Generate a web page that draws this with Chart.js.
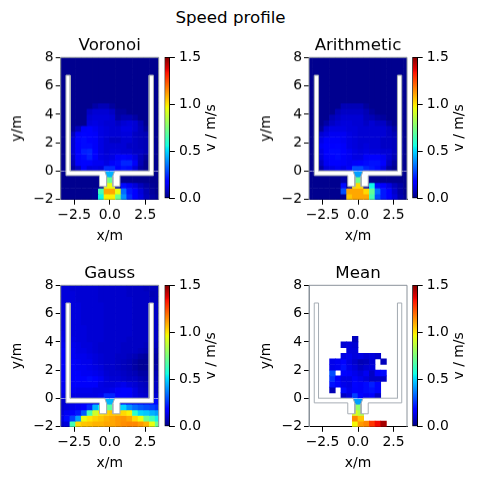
<!DOCTYPE html>
<html>
<head>
<meta charset="utf-8">
<title>Speed profile</title>
<script src="https://cdn.jsdelivr.net/npm/chart.js@4/dist/chart.umd.min.js"></script>
<style>
  html, body { margin: 0; padding: 0; background: #fff; }
  #stage { position: relative; width: 478px; height: 480px; overflow: hidden; }
  #stage canvas { position: absolute; }
  #suptitle { position: absolute; left: 0; top: 8px; width: 461px; text-align: center;
    font: 16.67px "DejaVu Sans"; color: #000; }
</style>
</head>
<body>
<div id="stage"><div id="suptitle">Speed profile</div></div>
<script>
// cell centres in metres
const columns = [-3.4, -3, -2.6, -2.2, -1.8, -1.4, -1, -0.6, -0.2, 0.2, 0.6, 1, 1.4, 1.8, 2.2, 2.6, 3, 3.4]
const rows = [7.8, 7.4, 7, 6.6, 6.2, 5.8, 5.4, 5, 4.6, 4.2, 3.8, 3.4, 3, 2.6, 2.2, 1.8, 1.4, 1, 0.6, 0.2, -0.2, -0.6, -1, -1.4, -1.8]

const xTicks = [-2.5, 0, 2.5]
const yTicks = [-2, 0, 2, 4, 6, 8]
const barTicks = [0, 0.5, 1, 1.5]

// walls, left half, the right half is the mirror
const wallX = [-3.08, -2.78, -2.78, -0.35, -0.22, -0.22, -0.72, -0.72, -3.08, -3.08]
const wallY = [6.75, 6.75, 0.02, 0.02, -0.35, -1.08, -1.08, -0.31, -0.31, 6.75]

const voronoi = [
  [.02,.02,.02,.02,.02,.02,.02,.02,.02,.02,.02,.02,.02,.02,.02,.02,.02,.02],
  [.02,.02,.02,.02,.02,.02,.02,.02,.02,.02,.02,.02,.02,.02,.02,.02,.02,.02],
  [.02,.02,.02,.02,.02,.02,.02,.02,.02,.02,.02,.02,.02,.02,.02,.02,.02,.02],
  [.02,.02,.02,.02,.02,.02,.02,.02,.02,.02,.02,.02,.02,.02,.02,.02,.02,.02],
  [.02,.02,.02,.02,.02,.02,.02,.02,.02,.02,.02,.02,.02,.02,.02,.02,.02,.02],
  [.02,.02,.02,.02,.02,.02,.02,.02,.02,.02,.02,.02,.02,.02,.02,.02,.02,.02],
  [.02,.02,.02,.02,.02,.02,.02,.02,.02,.02,.02,.02,.02,.02,.02,.02,.02,.02],
  [.02,.02,.02,.02,.02,.02,.02,.02,.02,.02,.02,.02,.02,.02,.02,.02,.02,.02],
  [.02,.02,.02,.02,.02,.02,.05,.07,.07,.04,.02,.02,.02,.02,.02,.02,.02,.02],
  [.02,.02,.02,.02,.02,.09,.11,.11,.11,.09,.04,.04,.02,.02,.02,.02,.02,.02],
  [.02,.02,.02,.02,.02,.11,.12,.12,.12,.11,.05,.07,.07,.05,.02,.02,.02,.02],
  [.02,.02,.02,.02,.02,.12,.13,.12,.11,.11,.09,.11,.12,.11,.07,.02,.02,.02],
  [.02,.02,.03,.08,.16,.17,.15,.13,.12,.11,.11,.13,.13,.11,.08,.04,.02,.02],
  [.02,.02,.08,.16,.19,.17,.16,.13,.12,.11,.11,.12,.12,.09,.08,.07,.02,.02],
  [.02,.02,.11,.19,.2,.17,.16,.13,.11,.09,.09,.11,.11,.09,.08,.07,.02,.02],
  [.02,.02,.11,.17,.2,.2,.16,.13,.11,.11,.11,.11,.09,.09,.08,.07,.04,.02],
  [.02,.02,.11,.17,.23,.24,.17,.13,.11,.12,.12,.11,.11,.09,.09,.07,.04,.02],
  [.02,.02,.09,.17,.2,.23,.17,.13,.12,.13,.16,.19,.16,.13,.08,.04,.02,.02],
  [.02,.02,.07,.16,.19,.19,.15,.15,.13,.16,.2,.24,.24,.16,.07,.02,.02,.02],
  [.02,.02,.04,.09,.16,.12,.13,.12,.25,.25,.17,.21,.2,.12,.05,.02,.02,.02],
  [.02,.02,.02,.02,.02,.02,.02,.02,.45,.45,.02,.02,.02,.02,.02,.02,.02,.02],
  [.02,.02,.02,.02,.02,.02,.02,.02,.75,.7,.02,.02,.02,.02,.02,.02,.02,.02],
  [.02,.02,.02,.02,.02,.02,.02,.03,.95,.95,.05,.2,.15,.12,.08,.05,.03,.02],
  [.02,.02,.02,.02,.02,.02,.03,.65,1.1,1.1,.95,.35,.22,.18,.12,.07,.04,.02],
  [.02,.02,.02,.02,.02,.02,.03,.55,.98,.98,.72,.4,.25,.18,.13,.08,.05,.03]
]

const arithmetic = [
  [.02,.02,.02,.02,.02,.02,.02,.02,.02,.02,.02,.02,.02,.02,.02,.02,.02,.02],
  [.02,.02,.02,.02,.02,.02,.02,.02,.02,.02,.02,.02,.02,.02,.02,.02,.02,.02],
  [.02,.02,.02,.02,.02,.02,.02,.02,.02,.02,.02,.02,.02,.02,.02,.02,.02,.02],
  [.02,.02,.02,.02,.02,.02,.02,.02,.02,.02,.02,.02,.02,.02,.02,.02,.02,.02],
  [.02,.02,.02,.02,.02,.02,.02,.02,.02,.02,.02,.02,.02,.02,.02,.02,.02,.02],
  [.02,.02,.02,.02,.02,.02,.02,.02,.02,.02,.02,.02,.02,.02,.02,.02,.02,.02],
  [.02,.02,.02,.02,.02,.02,.02,.02,.02,.02,.02,.02,.02,.02,.02,.02,.02,.02],
  [.02,.02,.02,.02,.02,.02,.02,.02,.02,.02,.02,.02,.02,.02,.02,.02,.02,.02],
  [.02,.02,.02,.02,.02,.02,.07,.07,.07,.07,.04,.02,.02,.02,.02,.02,.02,.02],
  [.02,.02,.02,.02,.02,.07,.09,.09,.09,.09,.07,.04,.02,.02,.02,.02,.02,.02],
  [.02,.02,.02,.02,.07,.09,.11,.11,.11,.11,.08,.07,.05,.04,.02,.02,.02,.02],
  [.02,.02,.02,.05,.09,.11,.12,.12,.11,.11,.09,.11,.09,.09,.05,.02,.02,.02],
  [.02,.02,.04,.11,.13,.13,.13,.12,.12,.11,.11,.11,.11,.11,.09,.05,.02,.02],
  [.02,.02,.11,.13,.15,.15,.15,.13,.12,.11,.11,.11,.11,.11,.09,.07,.04,.02],
  [.02,.02,.13,.16,.16,.16,.15,.13,.12,.11,.11,.11,.11,.09,.09,.08,.04,.02],
  [.02,.02,.15,.17,.17,.19,.16,.13,.12,.11,.12,.11,.11,.09,.09,.08,.05,.02],
  [.02,.02,.13,.17,.2,.2,.17,.15,.13,.12,.13,.12,.12,.11,.11,.08,.05,.02],
  [.02,.02,.12,.16,.19,.2,.16,.15,.13,.13,.16,.17,.17,.15,.11,.07,.04,.02],
  [.02,.02,.09,.15,.17,.17,.16,.15,.16,.17,.2,.21,.21,.17,.09,.04,.02,.02],
  [.02,.02,.05,.12,.13,.15,.13,.16,.3,.3,.24,.22,.2,.13,.05,.02,.02,.02],
  [.02,.02,.02,.02,.02,.02,.02,.02,.42,.42,.02,.02,.02,.02,.02,.02,.02,.02],
  [.02,.02,.02,.02,.02,.02,.05,.02,.72,.72,.02,.02,.02,.02,.02,.02,.02,.02],
  [.02,.02,.02,.02,.02,.02,.2,.03,1.02,1.02,.05,.55,.2,.18,.13,.08,.05,.02],
  [.02,.02,.02,.02,.02,.02,.3,1.1,1.1,1.1,1.02,.7,.35,.22,.17,.1,.05,.02],
  [.02,.02,.02,.02,.02,.02,.03,1.05,1.1,1.1,1.1,.65,.3,.22,.17,.12,.06,.03]
]

const gauss = [
  [.12,.12,.11,.11,.11,.11,.11,.1,.1,.1,.1,.1,.09,.09,.09,.08,.08,.08],
  [.12,.12,.12,.11,.11,.11,.11,.1,.1,.1,.1,.1,.09,.09,.09,.09,.07,.08],
  [.12,.12,.12,.11,.11,.11,.11,.1,.1,.1,.1,.1,.1,.09,.09,.09,.08,.08],
  [.12,.12,.12,.12,.11,.11,.11,.11,.1,.1,.1,.1,.1,.09,.09,.09,.09,.09],
  [.12,.12,.12,.12,.11,.11,.11,.11,.1,.1,.1,.1,.1,.09,.09,.09,.09,.09],
  [.12,.12,.12,.12,.11,.11,.11,.11,.1,.1,.1,.1,.1,.09,.09,.09,.09,.09],
  [.12,.13,.12,.12,.11,.11,.11,.11,.1,.1,.1,.1,.1,.09,.09,.09,.09,.09],
  [.12,.13,.12,.12,.12,.11,.11,.11,.1,.1,.1,.1,.1,.09,.09,.09,.09,.09],
  [.13,.13,.12,.12,.12,.11,.11,.11,.1,.1,.1,.1,.1,.09,.09,.09,.09,.09],
  [.14,.13,.13,.12,.12,.11,.11,.11,.1,.1,.1,.1,.09,.09,.09,.09,.09,.09],
  [.15,.15,.14,.13,.12,.12,.11,.1,.1,.1,.1,.09,.09,.09,.09,.08,.08,.08],
  [.16,.16,.15,.13,.13,.12,.11,.1,.1,.1,.1,.09,.09,.09,.08,.07,.06,.06],
  [.16,.16,.15,.14,.14,.13,.12,.11,.1,.1,.09,.09,.08,.07,.05,.04,.04,.05],
  [.16,.16,.16,.15,.14,.14,.12,.11,.1,.1,.09,.08,.07,.05,.03,.03,.03,.04],
  [.16,.16,.16,.15,.15,.14,.13,.12,.1,.1,.09,.08,.07,.05,.03,.03,.03,.05],
  [.16,.16,.16,.16,.15,.15,.14,.13,.11,.1,.1,.09,.08,.07,.05,.05,.05,.07],
  [.16,.16,.16,.17,.18,.2,.18,.15,.12,.11,.11,.1,.09,.09,.07,.06,.06,.08],
  [.15,.15,.16,.16,.16,.16,.16,.13,.12,.12,.13,.14,.12,.11,.09,.08,.08,.09],
  [.15,.15,.15,.14,.14,.14,.13,.13,.13,.14,.16,.18,.17,.13,.1,.09,.09,.09],
  [.13,.13,.13,.13,.13,.13,.13,.14,.24,.24,.18,.17,.16,.13,.11,.1,.1,.11],
  [.1,.11,.12,.13,.14,.15,.15,.16,.45,.45,.16,.16,.15,.15,.15,.15,.17,.2],
  [.1,.12,.14,.15,.18,.25,.45,.55,.7,.68,.5,.5,.4,.35,.32,.3,.28,.25],
  [.12,.15,.18,.22,.32,.65,.9,1,1.03,1.05,1.05,1.02,.98,.6,.5,.48,.45,.42],
  [.13,.2,.28,.42,.95,1,1.03,1.05,1.08,1.1,1.12,1.13,1.1,1.02,.95,.72,.65,.55],
  [.1,.12,.65,1.02,1.05,1.06,1.08,1.08,1.1,1.1,1.12,1.14,1.15,1.15,1.12,1.08,.95,.72]
]

const mean = [
  [null,null,null,null,null,null,null,null,null,null,null,null,null,null,null,null,null,null],
  [null,null,null,null,null,null,null,null,null,null,null,null,null,null,null,null,null,null],
  [null,null,null,null,null,null,null,null,null,null,null,null,null,null,null,null,null,null],
  [null,null,null,null,null,null,null,null,null,null,null,null,null,null,null,null,null,null],
  [null,null,null,null,null,null,null,null,null,null,null,null,null,null,null,null,null,null],
  [null,null,null,null,null,null,null,null,null,null,null,null,null,null,null,null,null,null],
  [null,null,null,null,null,null,null,null,null,null,null,null,null,null,null,null,null,null],
  [null,null,null,null,null,null,null,null,null,null,null,null,null,null,null,null,null,null],
  [null,null,null,null,null,null,null,null,null,null,null,null,null,null,null,null,null,null],
  [null,null,null,null,null,null,null,null,.08,null,null,null,null,null,null,null,null,null],
  [null,null,null,null,null,null,.11,.12,.11,null,null,null,null,null,null,null,null,null],
  [null,null,null,null,null,null,null,.12,.12,null,null,null,null,null,null,null,null,null],
  [null,null,null,null,null,null,.13,.14,.12,.13,.11,.12,.1,null,null,null,null,null],
  [null,null,null,null,.14,.15,.19,.13,.1,.07,.08,.11,null,.08,null,null,null,null],
  [null,null,null,null,.14,.15,.21,.14,.12,.09,.11,.12,null,null,null,null,null,null],
  [null,null,null,null,.3,null,.19,.16,.14,.12,.15,.09,.18,.2,null,null,null,null],
  [null,null,null,null,.26,.18,.13,.13,.16,.14,.12,.09,.09,.09,null,null,null,null],
  [null,null,null,null,.21,.19,.14,.13,.19,.16,.2,.23,.19,null,null,null,null,null],
  [null,null,null,null,.07,null,.2,.14,.18,.16,.2,.21,.19,null,null,null,null,null],
  [null,null,null,null,null,null,.09,.12,.28,.19,.15,.16,.09,null,null,null,null,null],
  [null,null,null,null,null,null,null,null,.42,.42,null,null,null,null,null,null,null,null],
  [null,null,null,null,null,null,null,null,.8,.78,null,null,null,null,null,null,null,null],
  [null,null,null,null,null,null,null,null,.92,.85,null,null,null,null,null,null,null,null],
  [null,null,null,null,null,null,null,null,1.15,1.05,null,null,null,null,null,null,null,null],
  [null,null,null,null,null,null,null,null,.97,1.12,1.15,1.28,1.35,1.45,null,null,null,null]
]

const panelTitles = ["Voronoi", "Arithmetic", "Gauss", "Mean"]
const panelValues = [voronoi, arithmetic, gauss, mean]

const stage = document.getElementById("stage")
Chart.defaults.font.family = '"DejaVu Sans"'
Chart.defaults.font.size = 13.9
Chart.defaults.color = "#000"
Chart.defaults.animation = false

function pick(t, knots) {
  for (let i = 1; i < knots.length; i++) {
    if (t <= knots[i][0]) {
      const a = knots[i - 1], b = knots[i]
      return a[1] + (b[1] - a[1]) * (t - a[0]) / (b[0] - a[0])
    }
  }
  return knots[knots.length - 1][1]
}

const jetR = [[0, 0], [.35, 0], [.66, 1], [.89, 1], [1, .5]]
const jetG = [[0, 0], [.125, 0], [.375, 1], [.64, 1], [.91, 0], [1, 0]]
const jetB = [[0, .5], [.11, 1], [.34, 1], [.65, 0], [1, 0]]

function jet(t) {
  t = Math.min(1, Math.max(0, t))
  return "rgb(" + Math.round(pick(t, jetR) * 255) + "," + Math.round(pick(t, jetG) * 255) + "," + Math.round(pick(t, jetB) * 255) + ")"
}

function addCanvas(left, top, width, height) {
  const c = document.createElement("canvas")
  c.style.left = left + "px"
  c.style.top = top + "px"
  c.width = width
  c.height = height
  c.style.width = width + "px"
  c.style.height = height + "px"
  stage.appendChild(c)
  return c
}

// grey box round the plot, the x axis line stays black
const frame = {
  id: "frame",
  afterDatasetsDraw(chart) {
    const a = chart.chartArea, ctx = chart.ctx
    ctx.save()
    ctx.strokeStyle = "#8a929a"
    ctx.lineWidth = 1
    ctx.beginPath()
    ctx.moveTo(a.left, a.bottom)
    ctx.lineTo(a.left, a.top)
    ctx.lineTo(a.right, a.top)
    ctx.lineTo(a.right, a.bottom)
    ctx.stroke()
    ctx.restore()
  }
}

// right axis title reading upwards, chart.js only turns it the other way
const barLabel = {
  id: "barLabel",
  afterDraw(chart) {
    const ctx = chart.ctx, a = chart.chartArea
    ctx.save()
    ctx.translate(51, (a.top + a.bottom) / 2)
    ctx.rotate(-Math.PI / 2)
    ctx.textAlign = "center"
    ctx.textBaseline = "middle"
    ctx.fillStyle = "#000"
    ctx.font = '13.9px "DejaVu Sans"'
    ctx.fillText("v / m/s", 0, 0)
    ctx.restore()
  }
}

function tickText(v) {
  return String(v).replace("-", "\u2212")
}

function drawPanel(index) {
  const col = index % 2, row = Math.floor(index / 2)
  const plotLeft = col ? 309 : 60.7
  const canvasLeft = col ? 250 : 0
  const plotTop = row ? 285 : 57.3
  const canvasTop = plotTop - 27.3
  const canvas = addCanvas(canvasLeft, canvasTop, 162, 214.5)
  const values = panelValues[index]

  const datasets = rows.map((y, r) => ({
    type: "bar",
    order: 2,
    grouped: false,
    barPercentage: 1,
    categoryPercentage: 1,
    borderWidth: 0,
    data: columns.map((x, c) => ({ x: x, y: values[r][c] === null ? null : [y - 0.2, y + 0.2], v: values[r][c] })),
    backgroundColor: ctx => ctx.raw ? jet(ctx.raw.v / 1.5) : "#fff"
  }))
  ;[1, -1].forEach(sign => {
    datasets.push({
      type: "line",
      order: 1,
      data: wallX.map((x, i) => ({ x: x * sign, y: wallY[i] })),
      borderColor: "#a7aeb5",
      borderWidth: 1,
      backgroundColor: "#fff",
      fill: "shape",
      pointRadius: 0,
      tension: 0
    })
  })

  new Chart(canvas, {
    type: "bar",
    data: { datasets: datasets },
    options: {
      responsive: false,
      layout: { padding: { right: 162 - (plotLeft - canvasLeft) - 98 } },
      plugins: {
        legend: { display: false },
        tooltip: { enabled: false },
        title: {
          display: true,
          fullSize: false,
          text: panelTitles[index],
          font: { size: 16.67, weight: "normal" },
          padding: { top: 6, bottom: 1.3 }
        }
      },
      scales: {
        x: {
          type: "linear",
          min: -3.45,
          max: 3.45,
          offset: false,
          afterFit: s => { s.height = 45.2; s.paddingLeft = 0; s.paddingRight = 0 },
          afterBuildTicks: s => { s.ticks = xTicks.map(v => ({ value: v })) },
          grid: { offset: false, drawOnChartArea: false, color: "#000", tickLength: 5, tickColor: "#000" },
          border: { color: "#000", width: 1 },
          ticks: { autoSkip: false, maxRotation: 0, padding: 2, callback: v => tickText(v.toFixed(1)) },
          title: { display: true, text: "x/m", padding: { top: 0, bottom: 0 } }
        },
        y: {
          type: "linear",
          min: -2,
          max: 8,
          afterFit: s => { s.width = plotLeft - canvasLeft; s.paddingTop = 0; s.paddingBottom = 0 },
          afterBuildTicks: s => { s.ticks = yTicks.map(v => ({ value: v })) },
          grid: { drawOnChartArea: false, tickLength: 5, tickColor: "#000" },
          border: { color: "#8a929a", width: 1 },
          ticks: { autoSkip: false, padding: 2, callback: v => tickText(v) },
          title: { display: true, text: "y/m", padding: { top: 9 - (col ? 1 : 0), bottom: 0 } }
        }
      }
    },
    plugins: [frame]
  })

  // colour bar
  const barLeft = col ? 408 : 160
  const barCanvas = addCanvas(barLeft, plotTop - 7, 70, 156)
  const inset = col ? 4.3 : 4.5
  new Chart(barCanvas, {
    type: "bar",
    data: {
      labels: ["v"],
      datasets: [{
        data: [[barTicks[0], barTicks[barTicks.length - 1]]],
        barPercentage: 1,
        categoryPercentage: 1,
        borderWidth: 1,
        borderColor: "#000",
        borderSkipped: false,
        backgroundColor: ctx => {
          const a = ctx.chart.chartArea
          if (!a) return "#000"
          const g = ctx.chart.ctx.createLinearGradient(0, a.bottom, 0, a.top)
          for (let i = 0; i <= 64; i++) g.addColorStop(i / 64, jet(i / 64))
          return g
        }
      }]
    },
    options: {
      responsive: false,
      layout: { padding: { left: inset, top: 7, bottom: 7.3, right: 0 } },
      plugins: { legend: { display: false }, tooltip: { enabled: false } },
      scales: {
        x: { display: false, offset: true },
        y: {
          position: "right",
          min: 0,
          max: 1.5,
          afterFit: s => { s.width = 70 - inset - 5.4; s.paddingTop = 0; s.paddingBottom = 0 },
          afterBuildTicks: s => { s.ticks = barTicks.map(v => ({ value: v })) },
          grid: { drawOnChartArea: false, tickLength: 5, tickColor: "#000" },
          border: { color: "#000", width: 1 },
          ticks: { autoSkip: false, padding: 4, callback: v => v.toFixed(1) }
        }
      }
    },
    plugins: [barLabel]
  })
}

panelTitles.forEach((t, i) => drawPanel(i))
</script>
</body>
</html>
